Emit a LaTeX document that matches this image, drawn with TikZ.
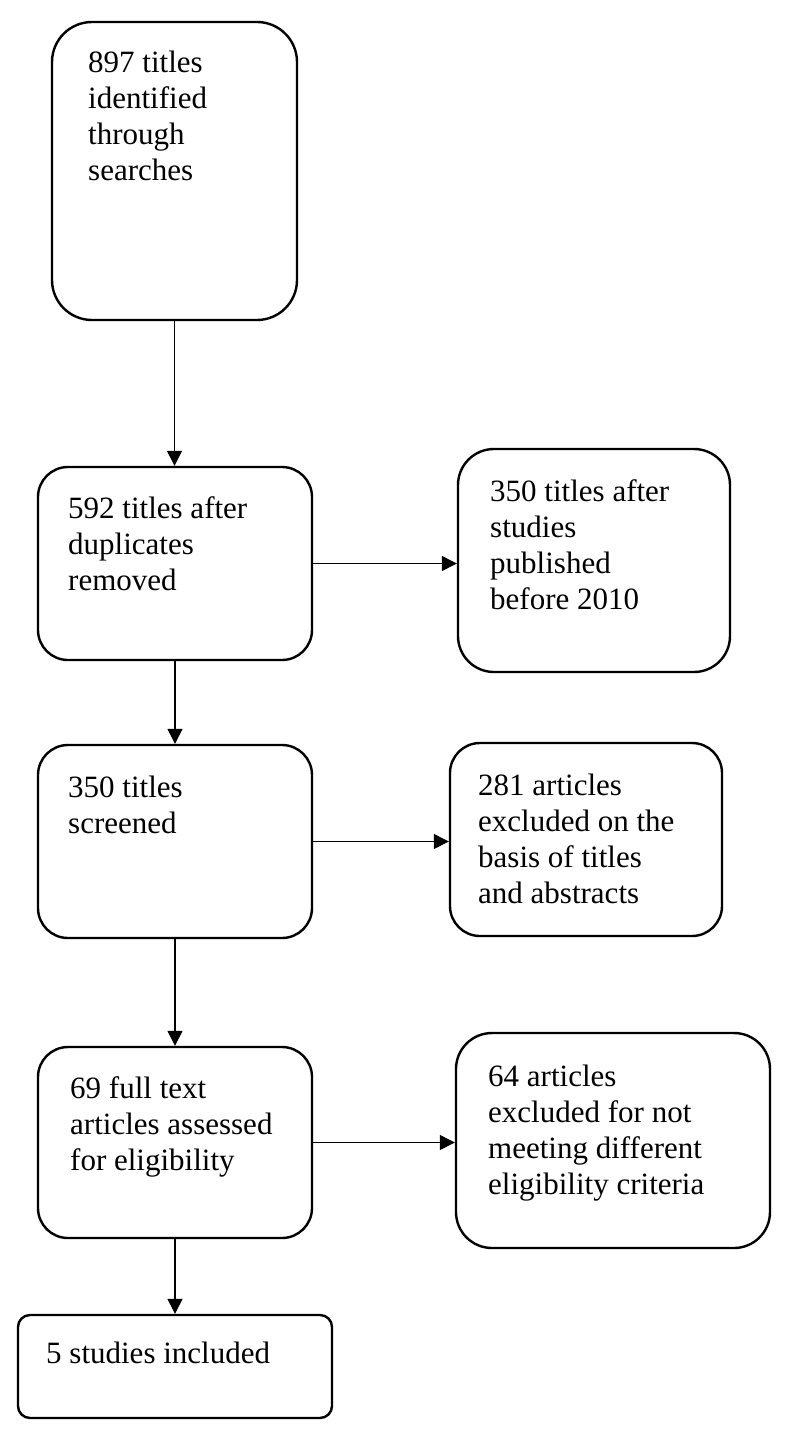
\documentclass[tikz,border=0pt]{standalone}
\usepackage{fontspec}
\setmainfont{Liberation Serif}
\usetikzlibrary{arrows.meta}
\tikzset{
  box/.style={draw=black, line width=2.4pt, rounded corners=#1, inner sep=0pt},
  box/.default=32pt,
  txt/.style={anchor=north west, align=left, inner sep=0pt, font=\fontsize{31}{36}\selectfont},
  arr/.style={line width=1.3pt, -{Triangle[length=15pt,width=15pt]}}
}
\begin{document}
\begin{tikzpicture}[x=1pt,y=-1pt]
\useasboundingbox[fill=white] (0,0) rectangle (793,1437);
% boxes
\node[box=40pt, minimum width=245pt, minimum height=298pt] (b1) at (174.5,171) {};
\node[box=30pt, minimum width=274pt, minimum height=193pt] (b2) at (175,563.5) {};
\node[box=36pt, minimum width=272pt, minimum height=223pt] (b3) at (594,560.5) {};
\node[box=30pt, minimum width=274pt, minimum height=193pt] (b4) at (175,841.5) {};
\node[box=30pt, minimum width=272pt, minimum height=193pt] (b5) at (586,839.5) {};
\node[box=30pt, minimum width=274pt, minimum height=191pt] (b6) at (175,1142.5) {};
\node[box=36pt, minimum width=314pt, minimum height=215pt] (b7) at (613,1140.5) {};
\node[box=12pt, minimum width=314pt, minimum height=103pt] (b8) at (175,1366.5) {};
% texts
\node[txt] (t1) at (88,51) {897 titles\\identified\\through\\searches};
\node[txt] (t2) at (68,496) {592 titles after\\duplicates\\removed};
\node[txt] (t3) at (490,479) {350 titles after\\studies\\published\\before 2010};
\node[txt] (t4) at (68,776) {350 titles\\screened};
\node[txt] (t5) at (478,774) {281 articles\\excluded on the\\basis of titles\\and abstracts};
\node[txt] (t6) at (70,1076) {69 full text\\articles assessed\\for eligibility};
\node[txt] (t7) at (488,1065) {64 articles\\excluded for not\\meeting different\\eligibility criteria};
\node[txt] (t8) at (46,1342) {5 studies included};
% connectors
\draw[arr] (b1.south) -- (b1.south |- b2.north);
\draw[arr] (b2.south) -- (b4.north);
\draw[arr] (b4.south) -- (b6.north);
\draw[arr] (b6.south) -- (b8.north);
\draw[arr] (b2.east) -- (b2.east -| b3.west);
\draw[arr] (b4.east) -- (b4.east -| b5.west);
\draw[arr] (b6.east) -- (b6.east -| b7.west);
\end{tikzpicture}
\end{document}
